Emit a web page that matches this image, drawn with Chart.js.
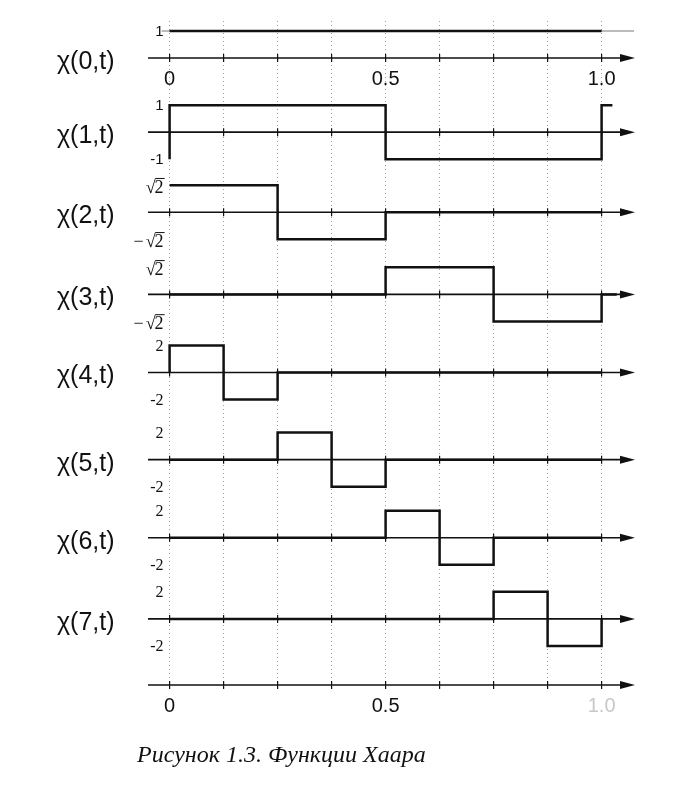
<!DOCTYPE html>
<html>
<head>
<meta charset="utf-8">
<script src="https://cdn.jsdelivr.net/npm/chart.js@4/dist/chart.umd.min.js"></script>
<style>
html, body { margin: 0; padding: 0; background: #fff; }
#wrap { position: relative; width: 686px; height: 811px; }
#caption { position: absolute; left: 137px; top: 741px; font: italic 24px "Liberation Serif", serif; color: #111; white-space: nowrap; }
</style>
</head>
<body>
<div id="wrap">
  <canvas id="haar" width="686" height="811"></canvas>
  <div id="caption">Рисунок 1.3. Функции Хаара</div>
</div>
<script>
var SQ2 = Math.SQRT2;

// row names
var rowNames = ['χ(0,t)', 'χ(1,t)', 'χ(2,t)', 'χ(3,t)', 'χ(4,t)', 'χ(5,t)', 'χ(6,t)', 'χ(7,t)'];

// each function: interval edges on t and the value held on each interval
var chi0Edges = [0, 1];                     var chi0Vals = [1];
var chi1Edges = [0, 0, 0.5, 1, 1.025];      var chi1Vals = [-1, 1, -1, 1];
var chi2Edges = [0, 0.25, 0.5, 1];          var chi2Vals = [SQ2, -SQ2, 0];
var chi3Edges = [0, 0.5, 0.75, 1, 1.035];   var chi3Vals = [0, SQ2, -SQ2, 0];
var chi4Edges = [0, 0, 0.125, 0.25, 1];     var chi4Vals = [0, 2, -2, 0];
var chi5Edges = [0, 0.25, 0.375, 0.5, 1];   var chi5Vals = [0, 2, -2, 0];
var chi6Edges = [0, 0.5, 0.625, 0.75, 1];   var chi6Vals = [0, 2, -2, 0];
var chi7Edges = [0, 0.75, 0.875, 1, 1];     var chi7Vals = [0, 2, -2, 0];

// tick marks on t and the labelled ones
var gridT = [0, 0.125, 0.25, 0.375, 0.5, 0.625, 0.75, 0.875, 1];
var labelT = [0, 0.5, 1];
var labelText = ['0', '0.5', '1.0'];

// value labels per row
var rowTickVals = [[1], [1, -1], [SQ2, -SQ2], [SQ2, -SQ2], [2, -2], [2, -2], [2, -2], [2, -2]];
var rowTickText = [['1'], ['1', '-1'], ['√2', '−√2'], ['√2', '−√2'], ['2', '-2'], ['2', '-2'], ['2', '-2'], ['2', '-2']];
var rowPeak = [1, 1, SQ2, SQ2, 2, 2, 2, 2];

// layout: band height (px) of each row in the stack, last one is the bottom axis strip
var bandPx = [74, 74, 86, 78, 78, 96, 60, 102, 15];
var ampPx = 27;

var edges = [chi0Edges, chi1Edges, chi2Edges, chi3Edges, chi4Edges, chi5Edges, chi6Edges, chi7Edges];
var vals = [chi0Vals, chi1Vals, chi2Vals, chi3Vals, chi4Vals, chi5Vals, chi6Vals, chi7Vals];

function stepPoints(e, v) {
    var pts = [];
    for (var i = 0; i < v.length; i++) {
        pts.push({x: e[i], y: v[i]});
        pts.push({x: e[i + 1], y: v[i]});
    }
    return pts;
}

var datasets = [];
var scales = {
    x: {
        type: 'linear', position: 'bottom', min: -0.05, max: 1.075,
        afterBuildTicks: function (s) { s.ticks = gridT.map(function (v) { return {value: v}; }); },
        grid: { color: '#a0a0a0', lineWidth: 1, drawTicks: false },
        border: { display: false, dash: [1, 3] },
        ticks: {
            autoSkip: false, maxRotation: 0, padding: 9,
            font: { family: '"Liberation Sans", Arial, sans-serif', size: 20 },
            color: function (c) { return c.tick && c.tick.value === 1 ? '#c8c8c8' : '#111'; },
            callback: function (v) { var k = labelT.indexOf(v); return k < 0 ? '' : labelText[k]; }
        }
    }
};
for (var i = 0; i < rowNames.length; i++) {
    var R = rowPeak[i] * bandPx[i] / (2 * ampPx);
    scales['y' + i] = { type: 'linear', display: false, position: 'left', stack: 'rows',
        stackWeight: bandPx[i], weight: 20 - i, min: -R, max: R };
    datasets.push({
        label: rowNames[i], yAxisID: 'y' + i, xAxisID: 'x',
        data: stepPoints(edges[i], vals[i]),
        borderColor: '#111', borderWidth: 2.5, pointRadius: 0, tension: 0, fill: false
    });
}
scales.yb = { type: 'linear', display: false, position: 'left', stack: 'rows',
    stackWeight: bandPx[8], weight: 1, min: 0, max: 1 };

function drawRoot(ctx, neg, xr, y) {
    ctx.font = '18px "Liberation Serif", serif';
    ctx.textAlign = 'left';
    ctx.textBaseline = 'middle';
    var w2 = ctx.measureText('2').width;
    var mr = ctx.measureText('√');
    var x2 = xr - w2;
    var xRoot = x2 - mr.width + 1;
    ctx.fillText('2', x2, y);
    ctx.fillText('√', xRoot, y);
    var top = y - mr.actualBoundingBoxAscent + 0.5;
    ctx.lineWidth = 1;
    ctx.beginPath();
    ctx.moveTo(xRoot + mr.actualBoundingBoxRight - 0.5, top);
    ctx.lineTo(xr + 1, top);
    ctx.stroke();
    if (neg) {
        ctx.textAlign = 'right';
        ctx.fillText('−', xRoot - 2, y);
    }
}

var haarAxes = {
    id: 'haarAxes',
    beforeDatasetsDraw: function (chart) {
        var ctx = chart.ctx, xs = chart.scales.x;
        var x0 = xs.getPixelForValue(0);
        var xEnd = xs.right;
        var rows = [];
        for (var i = 0; i < rowNames.length; i++) rows.push(chart.scales['y' + i].getPixelForValue(0));
        rows.push(chart.chartArea.bottom);
        ctx.save();
        ctx.strokeStyle = '#111';
        ctx.fillStyle = '#111';
        rows.forEach(function (y) {
            ctx.lineWidth = 1.6;
            ctx.beginPath();
            ctx.moveTo(xs.left, y);
            ctx.lineTo(xEnd - 8, y);
            ctx.stroke();
            ctx.beginPath();
            ctx.moveTo(xEnd + 1, y);
            ctx.lineTo(xEnd - 14, y - 4);
            ctx.lineTo(xEnd - 14, y + 4);
            ctx.closePath();
            ctx.fill();
            ctx.lineWidth = 1.2;
            gridT.forEach(function (t) {
                var x = xs.getPixelForValue(t);
                ctx.beginPath();
                ctx.moveTo(x, y - 4);
                ctx.lineTo(x, y + 4);
                ctx.stroke();
            });
        });
        // thin reference line at the level of chi0
        var y1 = chart.scales.y0.getPixelForValue(1);
        ctx.lineWidth = 0.8;
        ctx.strokeStyle = '#555';
        ctx.beginPath();
        ctx.moveTo(x0 - 8, y1);
        ctx.lineTo(xEnd, y1);
        ctx.stroke();
        ctx.restore();
    },
    afterDatasetsDraw: function (chart) {
        var ctx = chart.ctx, xs = chart.scales.x;
        var x0 = xs.getPixelForValue(0);
        ctx.save();
        ctx.fillStyle = '#111';
        ctx.strokeStyle = '#111';
        for (var i = 0; i < rowNames.length; i++) {
            var ys = chart.scales['y' + i];
            var yAxis = ys.getPixelForValue(0);
            ctx.font = '25px "Liberation Sans", Arial, sans-serif';
            ctx.textAlign = 'left';
            ctx.textBaseline = 'middle';
            ctx.fillText(rowNames[i], 57, yAxis + 4);
            for (var k = 0; k < rowTickVals[i].length; k++) {
                var yv = ys.getPixelForValue(rowTickVals[i][k]);
                var txt = rowTickText[i][k];
                if (txt.indexOf('√') >= 0) {
                    drawRoot(ctx, txt.charAt(0) === '−', x0 - 6, yv + 3);
                } else {
                    ctx.font = i < 2 ? '15px "Liberation Sans", Arial, sans-serif' : '16px "Liberation Serif", serif';
                    ctx.textAlign = 'right';
                    ctx.textBaseline = 'middle';
                    ctx.fillText(txt, x0 - 6, yv + 1);
                }
            }
        }
        // t labels under the first row
        var yTop = chart.scales.y0.getPixelForValue(0);
        ctx.font = '20px "Liberation Sans", Arial, sans-serif';
        ctx.textAlign = 'center';
        ctx.textBaseline = 'top';
        for (var j = 0; j < labelT.length; j++) {
            ctx.fillText(labelText[j], xs.getPixelForValue(labelT[j]), yTop + 11);
        }
        ctx.restore();
    }
};

new Chart(document.getElementById('haar'), {
    type: 'line',
    data: { datasets: datasets },
    options: {
        responsive: false,
        animation: false,
        layout: { padding: { left: 148, right: 52, top: 21, bottom: 84 } },
        plugins: { legend: { display: false }, tooltip: { enabled: false } },
        scales: scales
    },
    plugins: [haarAxes]
});
</script>
</body>
</html>
